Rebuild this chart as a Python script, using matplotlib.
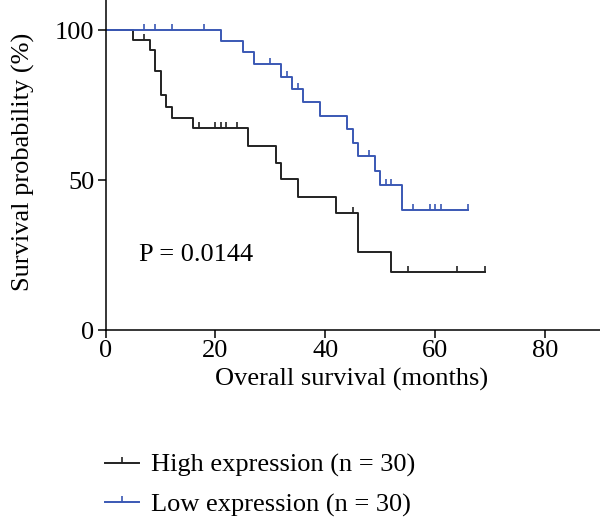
import numpy as np
import matplotlib
matplotlib.use("Agg")
import matplotlib.pyplot as plt
from matplotlib.lines import Line2D

plt.rcParams['font.family'] = ['Liberation Serif', 'DejaVu Serif']

# Kaplan-Meier steps (months, survival %)
high_times = [0, 5, 8, 9, 10, 11, 12, 16, 26, 31, 32, 35, 42, 46, 52, 69]
high_surv = [100, 96.7, 93.2, 86.2, 78.2, 74.5, 70.7, 67.2, 61.4, 55.8, 50.2, 44.5, 39.0, 26.0, 19.5, 19.5]
high_censor = [7, 17, 20, 21, 22, 24, 45, 55, 64, 69]

low_times = [0, 21, 25, 27, 32, 34, 36, 39, 44, 45, 46, 49, 50, 54, 66]
low_surv = [100, 96.3, 92.6, 88.8, 84.5, 80.4, 76.0, 71.3, 67.0, 62.4, 58.0, 53.0, 48.3, 40.1, 40.1]
low_censor = [7, 9, 12, 18, 30, 33, 35, 48, 51, 52, 56, 59, 60, 61, 66]

labels = ['High expression (n = 30)', 'Low expression (n = 30)']
colors = ['#222222', '#3a58b4']

FS = 19


def surv_at(times, surv, t):
    i = np.searchsorted(times, t, side='right') - 1
    return surv[i]


fig = plt.figure(figsize=(6, 5.24), dpi=100)
ax = fig.add_axes([0.176, 0.370, 0.824, 0.630])

for times, surv, cens, col in [(high_times, high_surv, high_censor, colors[0]),
                                (low_times, low_surv, low_censor, colors[1])]:
    ax.step(times, surv, where='post', color=col, lw=1.4)
    cy = [surv_at(times, surv, c) for c in cens]
    ax.plot(cens, cy, ls='none', marker=2, ms=4.5, mew=1.2, color=col)

ax.set_xlim(0, 90)
ax.set_ylim(0, 110)
ax.set_xticks([0, 20, 40, 60, 80])
ax.set_yticks([0, 50, 100])
for s in ['top', 'right']:
    ax.spines[s].set_visible(False)
for s in ['left', 'bottom']:
    ax.spines[s].set_linewidth(1.1)
ax.tick_params(length=6, width=1.1, labelsize=FS, pad=2)
ax.tick_params(axis='x', pad=1)

ax.set_xlabel('Overall survival (months)', fontsize=FS)
ax.set_ylabel('Survival probability (%)', fontsize=FS)
ax.xaxis.set_label_coords(0.497, -0.115)
ax.yaxis.set_label_coords(-0.142, 0.51)
ax.text(6, 25, 'P = 0.0144', fontsize=FS, va='center', ha='left')

handles = [Line2D([0], [0], color=c, lw=1.4, marker=2, ms=4.5, mew=1.2, markevery=[1])
           for c in colors]
for h in handles:
    h.set_xdata([0, 0.5, 1])
    h.set_ydata([0, 0, 0])
fig.legend(handles, labels, loc='upper left', bbox_to_anchor=(0.157, 0.155),
           frameon=False, fontsize=FS, handlelength=1.3, handletextpad=0.45,
           labelspacing=0.6, borderaxespad=0)

fig.savefig('out.png', dpi=100)
